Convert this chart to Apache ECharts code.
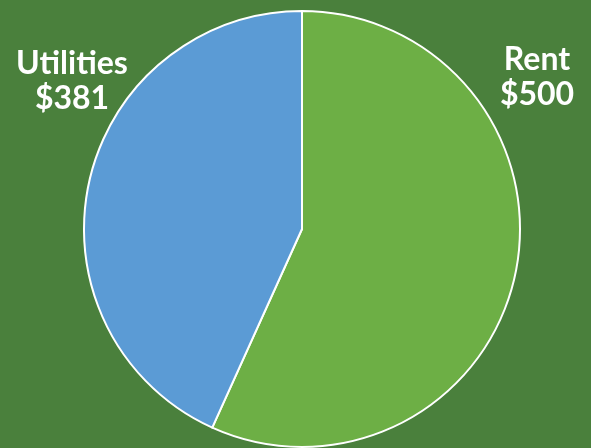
<!DOCTYPE html>
<html><head><meta charset="utf-8">
<script src="https://cdn.jsdelivr.net/npm/echarts@6/dist/echarts.min.js"></script>
<style>html,body{margin:0;padding:0;background:#4a803c}#c{width:591px;height:448px}</style>
</head><body><div id="c"></div>
<script>
const categories = ["Rent", "Utilities"];
const values = [500, 381];
const colors = ["#6daf45", "#5b9bd5"];
const labelPos = [[537, 77], [72, 81]];

const chart = echarts.init(document.getElementById('c'));
chart.setOption({
  backgroundColor: '#4a803c',
  animation: false,
  series: [{
    type: 'pie',
    center: [302, 229],
    radius: [0, 218],
    startAngle: 90,
    clockwise: true,
    avoidLabelOverlap: false,
    data: categories.map((c, i) => ({ name: c, value: values[i], itemStyle: { color: colors[i] } })),
    itemStyle: { borderColor: '#ffffff', borderWidth: 2 },
    label: {
      show: true,
      position: 'outside',
      formatter: p => p.name + '\n$' + p.value,
      color: '#ffffff',
      fontFamily: 'Lato, "Open Sans", sans-serif',
      fontWeight: 'bold',
      fontSize: 32,
      lineHeight: 35,
      align: 'center',
      overflow: 'none',
      width: 220
    },
    labelLine: { show: false },
    labelLayout: p => ({ x: labelPos[p.dataIndex][0], y: labelPos[p.dataIndex][1], align: 'center', verticalAlign: 'middle', hideOverlap: false, moveOverlap: null })
  }]
});
</script></body></html>
